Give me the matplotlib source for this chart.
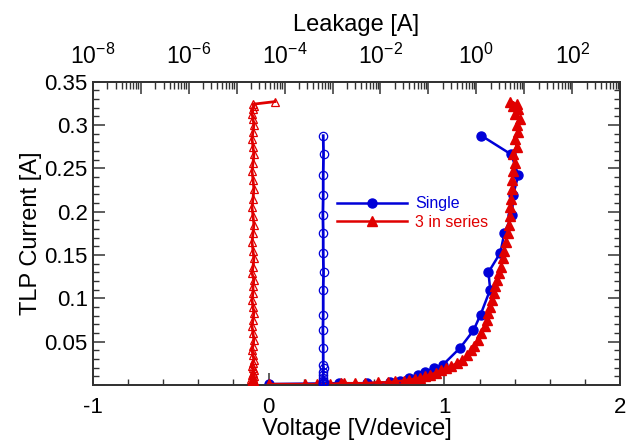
import numpy as np
import matplotlib
matplotlib.use("Agg")
import matplotlib.pyplot as plt
from matplotlib.ticker import LogLocator, FuncFormatter, MultipleLocator, NullFormatter

plt.rcParams['font.family'] = ['Liberation Sans', 'DejaVu Sans']
plt.rcParams['mathtext.fontset'] = 'custom'
plt.rcParams['mathtext.rm'] = 'Liberation Sans'
plt.rcParams['mathtext.it'] = 'Liberation Sans'
plt.rcParams['axes.unicode_minus'] = False

# Single device: TLP IV (voltage, current) and leakage after each pulse
single_v = [0.0, 0.40, 0.56, 0.69, 0.75, 0.80, 0.85, 0.89, 0.94, 0.99, 1.09,
            1.165, 1.205, 1.26, 1.25, 1.318, 1.34, 1.385, 1.39, 1.42, 1.38, 1.21]
single_i = [0.001, 0.002, 0.002, 0.003, 0.004, 0.0077, 0.0115, 0.0154, 0.019, 0.023, 0.043,
            0.063, 0.081, 0.110, 0.130, 0.1527, 0.175, 0.1966, 0.219, 0.242, 0.266, 0.2877]
single_leak = [6.4e-4, 6.3e-4, 6.4e-4, 6.5e-4, 6.4e-4, 6.3e-4, 6.4e-4, 6.4e-4, 6.5e-4, 6.4e-4, 6.4e-4,
               6.3e-4, 6.4e-4, 6.4e-4, 6.5e-4, 6.4e-4, 6.4e-4, 6.3e-4, 6.4e-4, 6.4e-4, 6.5e-4, 6.4e-4]

# 3 devices in series: voltage per device, current, leakage
series_v = [0.00, 0.21, 0.275, 0.35, 0.41, 0.43, 0.49, 0.55, 0.62, 0.68, 0.72, 0.77,
            0.80, 0.83, 0.86, 0.89, 0.92, 0.95, 0.98, 1.01, 1.04, 1.07, 1.10, 1.13,
            1.15, 1.17, 1.19, 1.21, 1.23, 1.24, 1.25, 1.26, 1.27, 1.28, 1.29, 1.30,
            1.31, 1.32, 1.33, 1.34, 1.35, 1.36, 1.365, 1.37, 1.375, 1.38, 1.385, 1.385,
            1.39, 1.40, 1.39, 1.41, 1.40, 1.42, 1.41, 1.43, 1.40, 1.42, 1.39, 1.41, 1.375]
series_i = [0.001, 0.001, 0.001, 0.001, 0.002, 0.002, 0.002, 0.002, 0.003, 0.003, 0.004, 0.005,
            0.006, 0.007, 0.008, 0.010, 0.012, 0.014, 0.017, 0.019, 0.022, 0.025, 0.029, 0.034,
            0.040, 0.045, 0.052, 0.060, 0.068, 0.075, 0.083, 0.090, 0.098, 0.106, 0.114, 0.121,
            0.129, 0.136, 0.146, 0.155, 0.165, 0.175, 0.185, 0.195, 0.205, 0.215, 0.226, 0.237,
            0.247, 0.256, 0.266, 0.275, 0.284, 0.292, 0.300, 0.307, 0.313, 0.318, 0.322, 0.324, 0.327]
series_leak = [2.2e-5, 2.1e-5, 2.3e-5, 2.2e-5, 2.0e-5, 2.3e-5, 2.2e-5, 2.1e-5, 2.3e-5, 2.2e-5, 2.1e-5, 2.3e-5,
               2.2e-5, 2.0e-5, 2.2e-5, 2.3e-5, 2.1e-5, 2.2e-5, 2.3e-5, 2.2e-5, 2.1e-5, 2.2e-5, 2.3e-5, 2.2e-5,
               2.1e-5, 2.2e-5, 2.3e-5, 2.2e-5, 2.1e-5, 2.2e-5, 2.3e-5, 2.2e-5, 2.1e-5, 2.2e-5, 2.2e-5, 2.3e-5,
               2.1e-5, 2.2e-5, 2.3e-5, 2.2e-5, 2.1e-5, 2.2e-5, 2.3e-5, 2.2e-5, 2.1e-5, 2.2e-5, 2.3e-5, 2.2e-5,
               2.1e-5, 2.2e-5, 2.3e-5, 2.2e-5, 2.1e-5, 2.2e-5, 2.3e-5, 2.2e-5, 2.1e-5, 2.2e-5, 2.3e-5, 2.2e-5, 6.3e-5]

blue = '#0000d8'
red = '#e00000'

fig = plt.figure(figsize=(6.26, 4.44), dpi=100)
ax = fig.add_axes([0.148, 0.133, 0.843, 0.683])
ax2 = ax.twiny()

ax.plot(single_v, single_i, '-o', color=blue, lw=1.8, ms=6.5, label='Single', zorder=3)
ax.plot(series_v, series_i, '-^', color=red, lw=1.8, ms=7, label='3 in series', zorder=4)

ax2.plot(single_leak, single_i, '-o', color=blue, lw=2.0, ms=6, mfc='none', mec=blue, mew=0.9, zorder=5)
ax2.plot(series_leak, series_i, '-^', color=red, lw=2.0, ms=6, mfc='none', mec=red, mew=0.9, zorder=6)

ax.set_xlim(-1, 2)
ax.set_ylim(0, 0.35)
ax2.set_xscale('log')
ax2.set_xlim(1e-8, 1e3)

ax.xaxis.set_major_locator(MultipleLocator(1))
ax.xaxis.set_minor_locator(MultipleLocator(0.2))
ax.yaxis.set_major_locator(MultipleLocator(0.05))
ax.yaxis.set_minor_locator(MultipleLocator(0.01))
ax.xaxis.set_major_formatter(FuncFormatter(lambda v, p: '%d' % round(v)))
ax.yaxis.set_major_formatter(FuncFormatter(lambda v, p: '' if abs(v) < 1e-9 else '%g' % round(v, 3)))

ax2.xaxis.set_major_locator(LogLocator(base=10, numticks=20))
ax2.xaxis.set_minor_locator(LogLocator(base=10, subs=np.arange(2, 10), numticks=20))
ax2.xaxis.set_minor_formatter(NullFormatter())


def top_fmt(v, p):
    e = int(round(np.log10(v)))
    if e % 2 == 0:
        return r'10$^{\mathregular{%d}}$' % e
    return ''


ax2.xaxis.set_major_formatter(FuncFormatter(top_fmt))

for a in (ax, ax2):
    for s in a.spines.values():
        s.set_linewidth(1.3)
        s.set_color('#333333')

ax.tick_params(which='both', direction='in', top=False, right=True, color='#333333', labelsize=16)
ax.tick_params(which='major', length=8.5, width=1.1)
ax.tick_params(which='minor', length=4.5, width=1.0)
ax.tick_params(axis='x', pad=9)
ax2.tick_params(which='both', direction='in', color='#333333', labelsize=16.5)
ax2.tick_params(which='major', length=8.5, width=1.1, pad=9)
ax2.tick_params(which='minor', length=5, width=1.0)

ax.set_xlabel('Voltage [V/device]', fontsize=17, labelpad=0)
ax.set_ylabel('TLP Current [A]', fontsize=17, labelpad=2)
ax2.set_xlabel('Leakage [A]', fontsize=17, labelpad=9)

leg = ax.legend(loc='upper left', bbox_to_anchor=(0.448, 0.648), frameon=False, fontsize=11.5,
                handlelength=4.4, handletextpad=0.5, labelspacing=0.2, borderpad=0)
for txt, c in zip(leg.get_texts(), (blue, red)):
    txt.set_color(c)

fig.savefig('out.png', dpi=100)
